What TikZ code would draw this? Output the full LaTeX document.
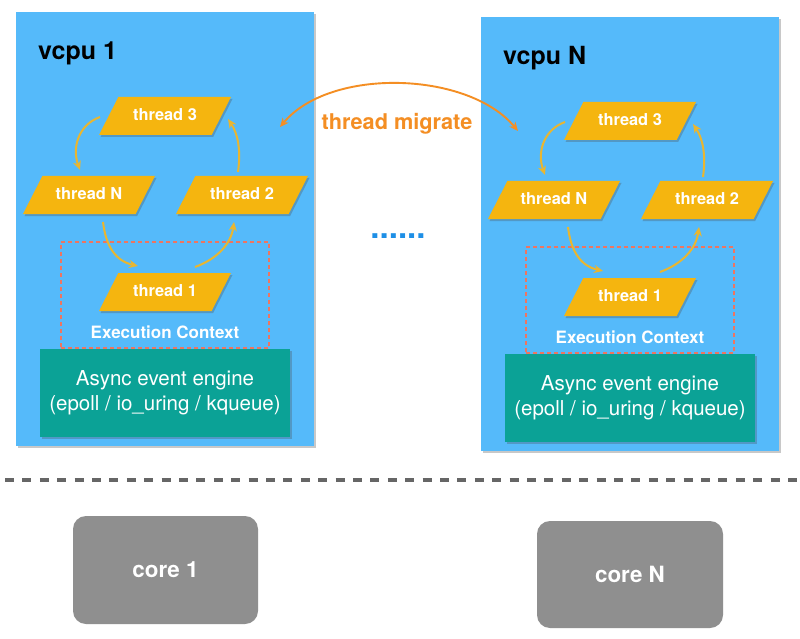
\documentclass[tikz,border=0pt]{standalone}
\usepackage{fontspec}
\setmainfont{TeX Gyre Heros}
\usetikzlibrary{shapes.geometric,shadows,arrows.meta}
\definecolor{vcpublue}{HTML}{55BAFA}
\definecolor{thryel}{HTML}{F5B50F}
\definecolor{cycyel}{HTML}{E9B630}
\definecolor{engteal}{HTML}{0BA296}
\definecolor{migorange}{HTML}{F48E23}
\definecolor{ecred}{HTML}{EE7560}
\definecolor{dotblue}{HTML}{1E8FE6}
\definecolor{coregray}{HTML}{8F8F8F}
\definecolor{sepgray}{HTML}{666666}
\tikzset{
  softshadow/.style={drop shadow={shadow xshift=1.5pt, shadow yshift=-2pt, opacity=0.3, fill=black!70}},
  vcpubox/.style={rectangle, fill=vcpublue, minimum width=298pt, minimum height=434pt, inner sep=0pt, softshadow},
  titletext/.style={font=\fontsize{25}{28}\selectfont\bfseries, text=black, inner sep=0pt},
  ecbox/.style={rectangle, draw=ecred, dash pattern=on 4pt off 3pt, line width=1.3pt, minimum width=208pt, minimum height=106pt, inner sep=0pt},
  thr/.style={trapezium, trapezium left angle=63, trapezium right angle=117, trapezium stretches body=true,
    text height=12pt, text depth=3.5pt, inner ysep=11.25pt, inner xsep=0pt,
    minimum width=132pt, fill=thryel, text=white,
    font=\fontsize{16.4}{19}\selectfont\bfseries, softshadow},
  eclabel/.style={text=white, font=\fontsize{17}{20}\selectfont\bfseries, inner sep=0pt},
  engine/.style={rectangle, fill=engteal, minimum width=250pt, minimum height=88pt, inner sep=0pt, text=white,
    align=center, font=\fontsize{20.5}{25}\selectfont, softshadow},
  cyc/.style={draw=cycyel, line width=2pt, -{Stealth[length=9pt,width=8pt]}},
  migr/.style={draw=migorange, line width=1.9pt, {Stealth[length=9pt,width=8pt]}-{Stealth[length=9pt,width=8pt]}},
  corebox/.style={rectangle, rounded corners=13pt, fill=coregray, minimum width=185pt, minimum height=108pt, inner sep=0pt,
    text=white, font=\fontsize{22.4}{26}\selectfont\bfseries},
  sepline/.style={draw=sepgray, line width=4.5pt, dash pattern=on 9pt off 8.4pt}
}
\newcommand\vcpupanel[3]{%
\begin{scope}[shift={#2}]
  \node[vcpubox] (#1box) at (165,229) {};
  \node[titletext, anchor=base west] (#1title) at (38,60) {#3};
  \node[ecbox] (#1ec) at (165,295) {};
  \node[thr] (#1t3) at (165,116) {thread 3};
  \node[thr] (#1tN) at (89,195) {thread N};
  \node[thr] (#1t2) at (242,195) {thread 2};
  \node[thr] (#1t1) at (165,292) {thread 1};
  \node[eclabel] (#1ecl) at (165,332) {Execution Context};
  \node[engine] (#1eng) at (165,393) {Async event engine\\(epoll / io\_uring / kqueue)};
  \draw[cyc] ([shift={(-65,1)}]#1t3.center) .. controls +(-22,8) and +(-8,-22) .. ([shift={(-9,-25)}]#1tN.center);
  \draw[cyc] ([shift={(14,27)}]#1tN.center) .. controls +(3,25) and +(-22,-5) .. ([shift={(-27,-26)}]#1t1.center);
  \draw[cyc] ([shift={(30,-25)}]#1t1.center) .. controls +(22,-8) and +(-3,22) .. ([shift={(-8,27)}]#1t2.center);
  \draw[cyc] ([shift={(-4,-23)}]#1t2.center) .. controls +(3,-22) and +(10,15) .. ([shift={(63,3)}]#1t3.center);
\end{scope}}
\begin{document}
\begin{tikzpicture}[x=1pt,y=-1pt]
\useasboundingbox (0,0) rectangle (800,639);
\fill[white] (0,0) rectangle (800,639);
\vcpupanel{L}{(0,0)}{vcpu 1}
\vcpupanel{R}{(465,5)}{vcpu N}
\coordinate (migL) at (280,127);
\coordinate (migR) at (518,131);
\draw[migr] (migL) .. controls +(50,-60) and +(-50,-60) .. (migR);
\node[text=migorange, font=\fontsize{21.7}{25}\selectfont\bfseries, inner sep=0pt, anchor=base] (miglabel) at (397,130) {thread migrate};
\node[text=dotblue, font=\fontsize{33}{36}\selectfont\bfseries, inner sep=0pt, anchor=base] (dots) at (398,238) {......};
\coordinate (sepL) at (5,480);
\coordinate (sepR) at (800,480);
\draw[sepline] (sepL) -- (sepR);
\node[corebox] (core1) at (165.5,570) {core 1};
\node[corebox, minimum width=186pt, minimum height=107pt] (coreN) at (630,574.5) {core N};
\end{tikzpicture}
\end{document}
